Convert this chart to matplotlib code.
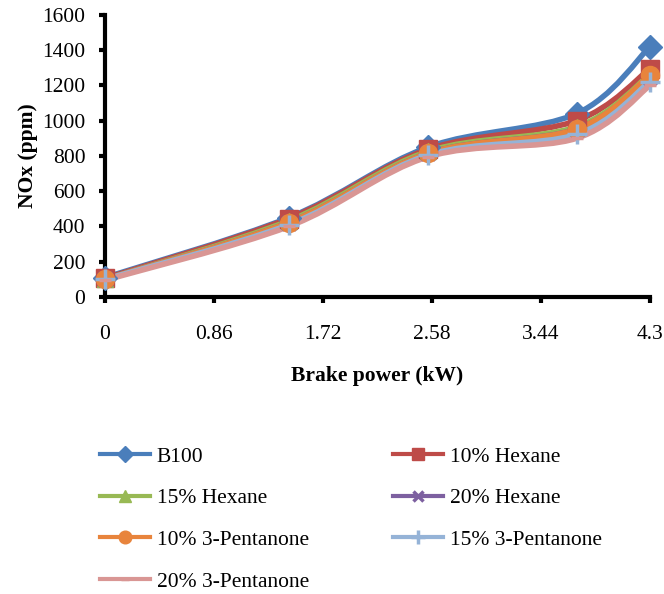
import matplotlib
matplotlib.use('Agg')
import matplotlib.pyplot as plt
from matplotlib.path import Path
from matplotlib.patches import PathPatch
from matplotlib.lines import Line2D

plt.rcParams['font.family'] = ['Liberation Serif', 'DejaVu Serif']

# brake power (kW) at each test point
power = [0, 1.45, 2.55, 3.72, 4.3]

b100 = [110, 450, 850, 1040, 1420]
hex10 = [105, 445, 838, 1000, 1295]
hex15 = [100, 432, 826, 965, 1262]
hex20 = [100, 422, 815, 952, 1250]
pent10 = [100, 422, 815, 952, 1258]
pent15 = [100, 410, 805, 922, 1222]
pent20 = [95, 400, 795, 900, 1200]

labels = ['B100', '10% Hexane', '15% Hexane', '20% Hexane',
          '10% 3-Pentanone', '15% 3-Pentanone', '20% 3-Pentanone']
series = [b100, hex10, hex15, hex20, pent10, pent15, pent20]
colors = ['#4a7ebb', '#be4b48', '#98b954', '#7d60a0', '#e8843c', '#95b3d7', '#d99694']
markers = ['D', 's', '^', 'x', 'o', '+', '_']
msizes = [12, 13, 12, 10, 13, 14, 9]

xticks = [0, 0.86, 1.72, 2.58, 3.44, 4.3]
yticks = [0, 200, 400, 600, 800, 1000, 1200, 1400, 1600]

FS = 15.5


def smooth_path(xs, ys, t=1/6):
    # Excel-style smoothed line through the data points (cubic bezier segments)
    verts = [(xs[0], ys[0])]
    codes = [Path.MOVETO]
    n = len(xs)
    for i in range(n - 1):
        x0, y0 = xs[max(i - 1, 0)], ys[max(i - 1, 0)]
        x1, y1 = xs[i], ys[i]
        x2, y2 = xs[i + 1], ys[i + 1]
        x3, y3 = xs[min(i + 2, n - 1)], ys[min(i + 2, n - 1)]
        c1 = (x1 + (x2 - x0) * t, y1 + (y2 - y0) * t)
        c2 = (x2 - (x3 - x1) * t, y2 - (y3 - y1) * t)
        verts += [c1, c2, (x2, y2)]
        codes += [Path.CURVE4] * 3
    return Path(verts, codes)


fig = plt.figure(figsize=(6.64, 5.94), dpi=100)
ax = fig.add_axes([0.158, 0.5, 0.821, 0.475])

handles = []
for ys, lab, c, m, ms in zip(series, labels, colors, markers, msizes):
    ax.add_patch(PathPatch(smooth_path(power, ys), facecolor='none',
                           edgecolor=c, linewidth=4, capstyle='round', zorder=2))
    mew = 2.5 if m in ('x', '+', '_') else 1
    ax.plot(power, ys, linestyle='none', marker=m, markersize=ms,
            color=c, markeredgecolor=c, markeredgewidth=mew, zorder=3,
            clip_on=False)
    handles.append(Line2D([], [], color=c, linewidth=3, marker=m,
                          markersize=ms * 0.7, markeredgewidth=mew, label=lab))

ax.set_xlim(0, 4.3)
ax.set_ylim(0, 1600)
ax.set_xticks(xticks)
ax.set_xticklabels(['0', '0.86', '1.72', '2.58', '3.44', '4.3'])
ax.set_yticks(yticks)
ax.tick_params(axis='both', direction='out', length=4, width=3, labelsize=FS)
ax.tick_params(axis='x', pad=16)
ax.tick_params(axis='y', pad=10)
for side in ('top', 'right'):
    ax.spines[side].set_visible(False)
for side in ('left', 'bottom'):
    ax.spines[side].set_linewidth(3)

ax.set_xlabel('Brake power (kW)', fontsize=FS, fontweight='bold', labelpad=16)
ax.set_ylabel('NOx (ppm)', fontsize=FS, fontweight='bold', labelpad=3)

# legend reads row by row: reorder for matplotlib's column-first fill
order = [0, 2, 4, 6, 1, 3, 5]
fig.legend(handles=[handles[i] for i in order], loc='upper left',
           bbox_to_anchor=(0.151, 0.248), ncol=2, frameon=False, fontsize=FS,
           handlelength=2.3, handletextpad=0.33, columnspacing=3.9,
           labelspacing=1.0, borderpad=0, borderaxespad=0)

fig.savefig('out.png', dpi=100)
